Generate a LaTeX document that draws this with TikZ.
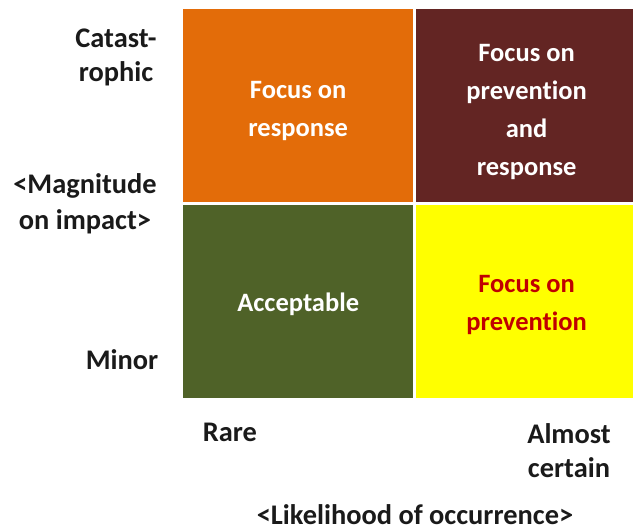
\documentclass[tikz,border=0pt]{standalone}
\usepackage{fontspec}
\setmainfont{Carlito}[Ligatures=NoCommon]
\usetikzlibrary{positioning}
\definecolor{respOrange}{HTML}{E36C09}
\definecolor{bothRed}{HTML}{632523}
\definecolor{okGreen}{HTML}{4F6228}
\definecolor{prevYellow}{HTML}{FFFF00}
\definecolor{prevRed}{HTML}{C00000}
\definecolor{labelGray}{HTML}{1A1A1A}
\tikzstyle{quad} = [rectangle, minimum height=193pt, inner sep=0pt]
\tikzstyle{quadtext} = [align=center, inner sep=0pt, text=white, font=\bfseries\fontsize{26.5}{38}\selectfont]
\tikzstyle{axislabel} = [align=center, inner sep=0pt, text=labelGray, font=\bfseries\fontsize{28.4}{34}\selectfont]

\begin{document}
\begin{tikzpicture}[x=1pt, y=-1pt]
    \useasboundingbox (0,0) rectangle (633,532);
    % Place quadrants
    \node [quad, fill=respOrange, minimum width=230pt, anchor=north west] (response) at (183,9) {};
    \node [quad, fill=bothRed, minimum width=218pt, right=2pt of response] (both) {};
    \node [quad, fill=okGreen, minimum width=230pt, below=2pt of response] (acceptable) {};
    \node [quad, fill=prevYellow, minimum width=218pt, below=2pt of both] (prevention) {};

    % Quadrant texts
    \node [quadtext] (responseText) at ([yshift=-5pt]response.center) {Focus on\\response};
    \node [quadtext] (bothText) at ([xshift=2pt, yshift=-6pt]both.center) {Focus on\\prevention\\and\\response};
    \node [quadtext] (acceptableText) at ([yshift=-3pt]acceptable.center) {Acceptable};
    \node [quadtext, text=prevRed] (preventionText) at ([xshift=2pt, yshift=-4pt]prevention.center) {Focus on\\prevention};

    % Axis labels
    \node [axislabel] (catast) at (116,57) {Catast-\\rophic};
    \node [axislabel, font=\bfseries\fontsize{28.4}{36}\selectfont] (magnitude) at (85,204) {<Magnitude\\on impact>};
    \node [axislabel] (minor) at (122,360) {Minor};
    \node [axislabel] (rare) at (230,432) {Rare};
    \node [axislabel] (almost) at (569,451) {Almost\\certain};
    \node [axislabel] (likelihood) at (415,515) {<Likelihood of occurrence>};
\end{tikzpicture}
\end{document}
